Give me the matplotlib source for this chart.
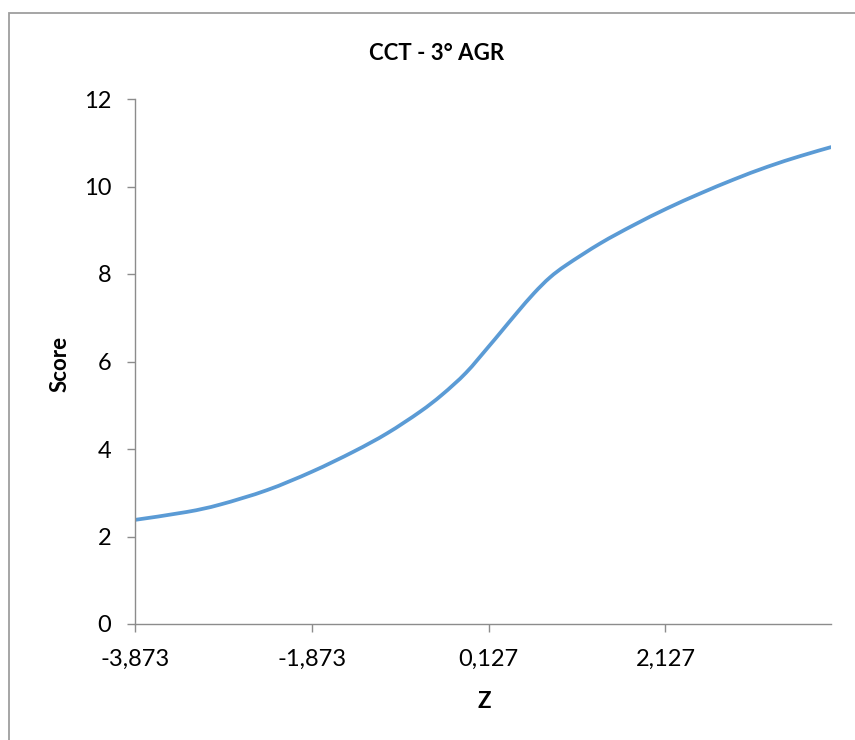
import matplotlib
matplotlib.use("Agg")
import matplotlib.pyplot as plt
from matplotlib.patches import Rectangle, PathPatch
from matplotlib.path import Path

title = "CCT - 3° AGR"
x_label = "Z"
y_label = "Score"

z = [-3.873, -3.29, -2.91, -2.38, -1.873, -1.40, -1.02, -0.65, -0.40,
     -0.13, 0.127, 0.26, 0.45, 0.64, 0.82, 1.01, 1.39, 1.77, 2.146, 2.52,
     2.90, 3.28, 3.66, 4.0]
score = [2.38, 2.56, 2.73, 3.06, 3.48, 3.94, 4.36, 4.85, 5.24,
         5.74, 6.34, 6.66, 7.12, 7.56, 7.92, 8.21, 8.70, 9.12, 9.50, 9.84,
         10.16, 10.45, 10.70, 10.90]

x_ticks = [-3.873, -1.873, 0.127, 2.127]
x_tick_labels = ["-3,873", "-1,873", "0,127", "2,127"]
y_ticks = [0, 2, 4, 6, 8, 10, 12]

plt.rcParams['font.family'] = ['Lato', 'DejaVu Sans']

W, H = 855, 740
fig = plt.figure(figsize=(W / 100, H / 100), dpi=100)
fig.patch.set_facecolor("white")

# outer chart border
fig.patches.append(Rectangle((8.5 / W, -0.1), 1.2, 1 - 13 / H + 0.1,
                             transform=fig.transFigure, fill=False,
                             edgecolor="#9e9e9e", linewidth=1.3))

ax = fig.add_axes([135 / W, (H - 624) / H, (831 - 135) / W, (624 - 99) / H])


def smooth_path(xs, ys):
    """Excel-like smoothed line: Catmull-Rom segments as cubic Beziers."""
    n = len(xs)
    verts = [(xs[0], ys[0])]
    codes = [Path.MOVETO]
    for i in range(n - 1):
        i0 = max(i - 1, 0)
        i3 = min(i + 2, n - 1)
        c1 = (xs[i] + (xs[i + 1] - xs[i0]) / 6, ys[i] + (ys[i + 1] - ys[i0]) / 6)
        c2 = (xs[i + 1] - (xs[i3] - xs[i]) / 6, ys[i + 1] - (ys[i3] - ys[i]) / 6)
        verts += [c1, c2, (xs[i + 1], ys[i + 1])]
        codes += [Path.CURVE4] * 3
    return Path(verts, codes)


ax.add_patch(PathPatch(smooth_path(z, score), facecolor="none",
                       edgecolor="#5B9BD5", linewidth=2.7,
                       capstyle="round", joinstyle="round",
                       transform=ax.transData))

ax.set_xlim(-3.873, 4.0)
ax.set_ylim(0, 12)
ax.set_xticks(x_ticks)
ax.set_xticklabels(x_tick_labels)
ax.set_yticks(y_ticks)

for s in ["top", "right"]:
    ax.spines[s].set_visible(False)
for s in ["left", "bottom"]:
    ax.spines[s].set_color("#8c8c8c")
    ax.spines[s].set_linewidth(1.0)
ax.tick_params(axis="both", direction="out", length=6, width=1.0,
               color="#8c8c8c", labelsize=17, labelcolor="black")
ax.tick_params(axis="x", pad=12)
ax.tick_params(axis="y", pad=11)

fig.text(437 / W, 1 - 53 / H, title, ha="center", va="center",
         fontsize=16, fontweight="bold")
fig.text(484 / W, 1 - 701 / H, x_label, ha="center", va="center",
         fontsize=16, fontweight="bold")
fig.text(60 / W, 1 - 364 / H, y_label, ha="center", va="center",
         fontsize=16, fontweight="bold", rotation=90)

fig.savefig("out.png", dpi=100)
